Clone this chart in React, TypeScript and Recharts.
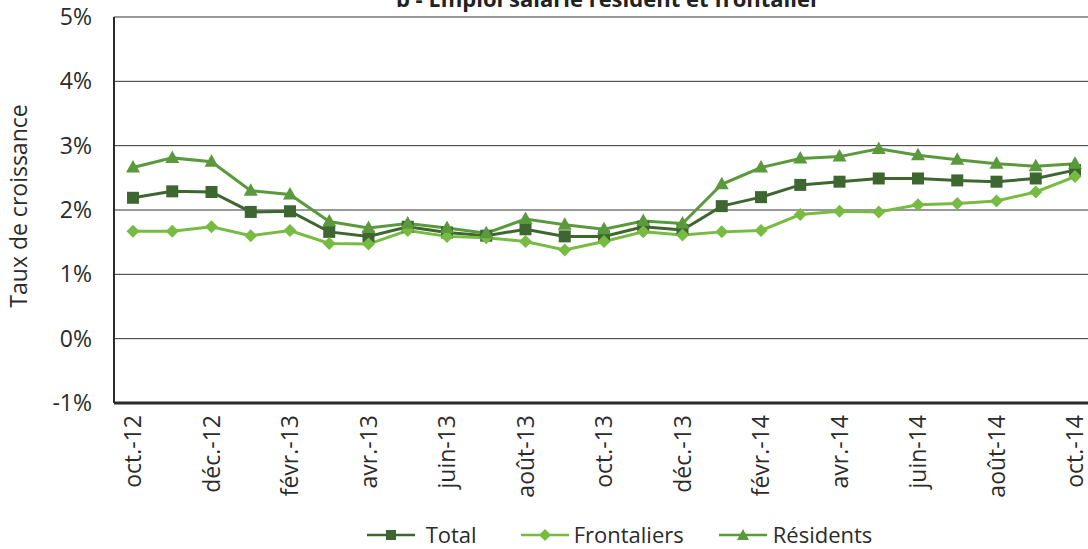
import React from 'react';
import { LineChart, Line, XAxis, YAxis, CartesianGrid, Legend } from 'recharts';

const months = ['oct.-12','nov.-12','déc.-12','janv.-13','févr.-13','mars-13','avr.-13','mai-13','juin-13','juil.-13','août-13','sept.-13','oct.-13','nov.-13','déc.-13','janv.-14','févr.-14','mars-14','avr.-14','mai-14','juin-14','juil.-14','août-14','sept.-14','oct.-14'];
const total = [2.19,2.29,2.28,1.97,1.98,1.66,1.59,1.74,1.65,1.60,1.70,1.59,1.59,1.74,1.69,2.06,2.20,2.39,2.44,2.49,2.49,2.46,2.44,2.49,2.62];
const frontaliers = [1.67,1.67,1.74,1.60,1.68,1.48,1.47,1.68,1.59,1.57,1.51,1.38,1.51,1.66,1.61,1.66,1.68,1.93,1.98,1.97,2.08,2.10,2.14,2.28,2.52];
const residents = [2.66,2.81,2.75,2.30,2.24,1.82,1.72,1.79,1.72,1.64,1.86,1.77,1.70,1.83,1.79,2.40,2.66,2.80,2.83,2.95,2.85,2.78,2.72,2.68,2.72];
const yTicks = [-1,0,1,2,3,4,5];
const title = 'b - Emploi salarié résident et frontalier';
const yLabel = 'Taux de croissance';

const C_TOTAL = '#3d6630';
const C_FRONT = '#78bb43';
const C_RES = '#5b9a3c';
const FONT = '"Open Sans", sans-serif';
const TEXT = '#2b2b2b';

const data = months.map((m, i) => ({ m, total: total[i], frontaliers: frontaliers[i], residents: residents[i] }));

const Square = (p: any) => { const { cx, cy } = p; if (cx == null || cy == null) return null; return <rect key={p.index} x={cx - 6} y={cy - 6} width={12} height={12} fill={C_TOTAL} />; };
const Diamond = (p: any) => { const { cx, cy } = p; if (cx == null || cy == null) return null; return <polygon key={p.index} points={`${cx},${cy - 6.5} ${cx + 6.5},${cy} ${cx},${cy + 6.5} ${cx - 6.5},${cy}`} fill={C_FRONT} />; };
const Triangle = (p: any) => { const { cx, cy } = p; if (cx == null || cy == null) return null; return <polygon key={p.index} points={`${cx},${cy - 7.5} ${cx + 7},${cy + 5} ${cx - 7},${cy + 5}`} fill={C_RES} />; };

const XTick = (p: any) => {
  const { x, y, payload } = p;
  return <text x={x} y={y} transform={`rotate(-90 ${x} ${y})`} textAnchor="end" dy="0.35em" fontSize={23} fill={TEXT} fontFamily={FONT}>{payload.value}</text>;
};
const YTick = (p: any) => {
  const { x, y, payload } = p;
  return <text x={x} y={y} textAnchor="end" dy="0.35em" fontSize={23} fill={TEXT} fontFamily={FONT}>{`${payload.value}%`}</text>;
};

const legendItems = [
  { name: 'Total', color: C_TOTAL, shape: 'square', before: 0, gap: 11 },
  { name: 'Frontaliers', color: C_FRONT, shape: 'diamond', before: 44, gap: 5 },
  { name: 'Résidents', color: C_RES, shape: 'triangle', before: 35, gap: 6 },
];

const LegendContent = () => (
  <div style={{ display: 'flex', justifyContent: 'center', alignItems: 'center', fontFamily: FONT, fontSize: 22, color: TEXT, height: 30 }}>
    {legendItems.map((it) => (
      <div key={it.name} style={{ display: 'flex', alignItems: 'center', marginLeft: it.before }}>
        <svg width={48} height={20} style={{ marginRight: it.gap }}>
          <line x1={0} y1={11} x2={48} y2={11} stroke={it.color} strokeWidth={2.5} />
          {it.shape === 'square' && <rect x={19} y={6} width={10} height={10} fill={it.color} />}
          {it.shape === 'diamond' && <polygon points="24,5 30,11 24,17 18,11" fill={it.color} />}
          {it.shape === 'triangle' && <polygon points="24,5 30,16 18,16" fill={it.color} />}
        </svg>
        <span style={{ lineHeight: '30px' }}>{it.name}</span>
      </div>
    ))}
  </div>
);

export default function App() {
  return (
    <div style={{ position: 'fixed', left: 0, top: 0, width: 1088, height: 549, overflow: 'hidden', background: '#fff' }}>
      <LineChart width={1100} height={549} data={data} margin={{ top: 17, right: 5, bottom: 0, left: 0 }}>
        <CartesianGrid vertical={false} stroke="#333" strokeWidth={1} />
        <XAxis dataKey="m" interval={1} tick={<XTick />} tickLine={false} tickSize={0} tickMargin={12} height={146}
          axisLine={{ stroke: '#2b2b2b', strokeWidth: 3 }} padding={{ left: 19, right: 20 }} />
        <YAxis domain={[-1, 5]} ticks={yTicks} tick={<YTick />} tickLine={false} tickSize={0} tickMargin={22} width={114}
          axisLine={{ stroke: '#2b2b2b', strokeWidth: 2 }}
          label={{ content: () => <text x={19} y={206} transform="rotate(-90 19 206)" textAnchor="middle" dy="0.35em" fontSize={23} fill={TEXT} fontFamily={FONT}>{yLabel}</text> }} />
        <Line dataKey="total" name="Total" stroke={C_TOTAL} strokeWidth={3} dot={Square} activeDot={false} isAnimationActive={false} />
        <Line dataKey="frontaliers" name="Frontaliers" stroke={C_FRONT} strokeWidth={3} dot={Diamond} activeDot={false} isAnimationActive={false} />
        <Line dataKey="residents" name="Résidents" stroke={C_RES} strokeWidth={3} dot={Triangle} activeDot={false} isAnimationActive={false} />
        <Legend layout="horizontal" verticalAlign="middle" align="center" content={<LegendContent />}
          wrapperStyle={{ top: 519, left: 0, width: 1239, height: 30 }} />
      </LineChart>
      <svg width={1088} height={20} style={{ position: 'absolute', left: 0, top: 0 }}>
        <text x={608} y={7} textAnchor="middle" fontSize={22} fontWeight="bold" fill="#222" fontFamily={FONT}>{title}</text>
      </svg>
    </div>
  );
}
